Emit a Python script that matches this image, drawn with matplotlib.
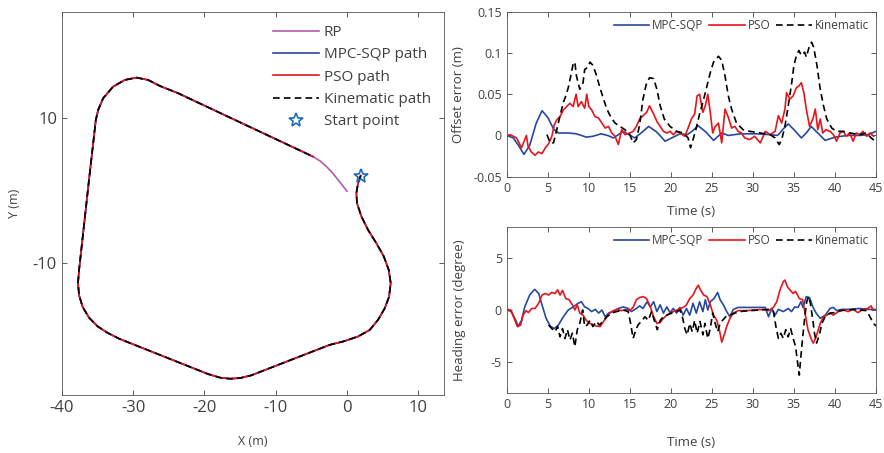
import numpy as np
import matplotlib
matplotlib.use("Agg")
import matplotlib.pyplot as plt

plt.rcParams['font.family'] = ['Open Sans', 'DejaVu Sans']
plt.rcParams['axes.linewidth'] = 0.6
plt.rcParams['axes.unicode_minus'] = False

# ---- trajectory (m) ----
path_x = [1.92, 1.55, 1.31, 1.40, 2.02, 2.95, 4.12, 5.15, 5.85, 6.13, 5.90, 5.29, 4.35, 3.18,
          1.55, -0.56, -2.43, -13.5, -15.0, -16.4, -17.8, -19.5, -32.0, -33.6, -35.0, -36.2,
          -37.1, -37.6, -37.75, -37.6, -36.18, -35.62, -35.25, -34.92, -34.22, -32.82, -31.18,
          -29.54, -27.91, -26.27, -23.70, -4.77]
path_y = [2.06, 1.0, -0.37, -1.76, -3.6, -5.45, -7.3, -9.1, -10.98, -12.8, -14.7, -16.3, -17.9,
          -19.3, -20.2, -20.9, -21.36, -25.6, -25.95, -26.05, -25.9, -25.4, -20.5, -19.7, -18.8,
          -17.6, -16.1, -14.5, -12.8, -11.0, 1.70, 6.54, 9.76, 11.15, 12.77, 14.37, 15.30,
          15.62, 15.30, 14.47, 13.46, 4.69]

rp_x = path_x[4:] + [-3.8, -2.89, -2.0, -1.26, -0.6, 0.0]
rp_y = path_y[4:] + [4.1, 3.31, 2.4, 1.47, 0.65, -0.1]

start_x, start_y = 1.92, 2.06

# ---- offset error (m) ----
off_mpc_t = [0, 0.8, 1.5, 2.1, 2.8, 3.6, 4.3, 5.0, 5.7, 6.3, 7.5, 8.5, 9.7, 10.5, 11.5, 12.3,
             13.0, 14.2, 15.6, 16.5, 17.3, 18.3, 19.3, 20.3, 21.1, 22.0, 22.7, 23.3, 24.3, 25.2,
             26.2, 27.0, 28.5, 30.5, 32.0, 33.0, 33.7, 34.3, 35.1, 35.9, 36.5, 37.1, 38.0, 38.8,
             40.0, 41.5, 43.0, 44.0, 45.0]
off_mpc = [0, -0.003, -0.013, -0.023, -0.012, 0.015, 0.030, 0.022, 0.008, 0.003, 0.003, 0.002,
           -0.002, -0.001, 0.002, 0.0, -0.003, 0.005, -0.003, 0.004, 0.011, 0.004, -0.007,
           -0.002, 0.002, 0.001, 0.006, 0.012, 0.004, -0.006, 0.003, 0.0, 0.002, 0.002, 0.001,
           0.0, 0.008, 0.014, 0.006, -0.003, 0.003, 0.011, 0.002, -0.006, -0.002, 0.0, 0.0,
           0.001, 0.005]

off_pso_t = [0, 0.4, 0.8, 1.2, 1.6, 1.8, 2.2, 2.4, 2.6, 3.0, 3.45, 3.85, 4.3, 4.7, 5.1, 5.5,
             5.8, 6.1, 6.5, 6.9, 7.3, 7.7, 8.1, 8.45, 8.7, 9.1, 9.5, 9.75, 10.0, 10.35, 10.75,
             11.2, 11.6, 12.0, 12.4, 12.8, 13.2, 13.6, 14.0, 14.4, 15.0, 15.4, 15.8, 16.2, 16.6,
             17.05, 17.4, 17.9, 18.3, 18.7, 19.1, 19.5, 19.9, 20.3, 20.7, 21.1, 21.7, 22.1, 22.5,
             22.9, 23.2, 23.5, 23.9, 24.2, 24.5, 24.8, 25.1, 25.4, 25.8, 26.2, 26.6, 27.0, 27.4,
             27.8, 28.2, 28.6, 29.0, 29.6, 30.2, 30.9, 31.5, 32.1, 32.7, 33.1, 33.5, 33.9, 34.1,
             34.5, 34.9, 35.3, 35.6, 35.9, 36.2, 36.5, 36.9, 37.3, 37.6, 37.9, 38.2, 38.5, 38.9,
             39.4, 39.8, 40.2, 40.6, 41.0, 41.4, 41.8, 42.2, 42.6, 43.0, 43.4, 43.85, 44.3, 44.7]
off_pso = [0, 0.001, -0.001, -0.003, -0.011, -0.015, -0.005, 0.0, -0.013, -0.020, -0.024, -0.020,
           -0.022, -0.015, -0.010, -0.001, 0.013, 0.019, 0.023, 0.031, 0.035, 0.039, 0.035, 0.050,
           0.035, 0.041, 0.033, 0.050, 0.035, 0.031, 0.023, 0.021, 0.015, 0.009, 0.011, 0.003,
           -0.001, -0.011, 0.007, 0.001, 0.003, 0.005, 0.011, 0.020, 0.024, 0.028, 0.036, 0.026,
           0.017, 0.011, 0.005, 0.003, 0.005, 0.001, 0.005, 0.003, -0.001, 0.009, 0.020, 0.026,
           0.048, 0.050, 0.028, 0.036, 0.050, 0.028, 0.003, 0.011, 0.015, -0.009, 0.032, 0.022,
           0.009, 0.011, 0.005, 0.003, -0.003, -0.005, -0.001, -0.009, 0.005, 0.001, 0.005, 0.024,
           0.015, 0.032, 0.052, 0.044, 0.048, 0.058, 0.060, 0.064, 0.052, 0.032, 0.011, 0.020,
           0.032, 0.007, 0.020, 0.003, 0.007, 0.005, 0.001, -0.007, 0.003, 0.005, -0.001, 0.003,
           -0.007, 0.003, 0.001, 0.005, -0.001, 0.003, -0.001]

off_kin_t = [4.9, 5.3, 5.7, 6.1, 6.5, 6.9, 7.2, 7.5, 7.8, 8.1, 8.3, 8.5, 8.9, 9.3, 9.5, 9.9, 10.15,
             10.5, 10.9, 11.3, 11.8, 12.2, 12.7, 13.2, 13.8, 14.4, 15.0, 15.4, 15.8, 16.2, 16.6,
             17.0, 17.4, 17.9, 18.3, 18.7, 19.2, 19.9, 20.7, 21.5, 22.1, 22.4, 22.7, 23.1, 23.5,
             24.0, 24.4, 24.8, 25.2, 25.8, 26.2, 26.6, 27.0, 27.4, 28.0, 28.8, 29.6, 30.9, 32.1,
             32.7, 33.2, 33.5, 33.9, 34.3, 34.7, 35.0, 35.3, 35.6, 35.9, 36.3, 36.5, 36.9, 37.15,
             37.4, 37.8, 38.2, 38.6, 39.0, 39.6, 40.2, 41.0, 41.8, 43.0, 43.85, 44.4, 44.8]
off_kin = [0.001, -0.009, -0.009, 0.007, 0.024, 0.040, 0.048, 0.058, 0.072, 0.087, 0.089, 0.072,
           0.056, 0.064, 0.080, 0.083, 0.089, 0.085, 0.074, 0.060, 0.044, 0.032, 0.022, 0.015,
           0.011, 0.007, 0.001, -0.009, -0.005, 0.013, 0.044, 0.062, 0.070, 0.069, 0.056, 0.036,
           0.020, 0.011, 0.005, 0.003, -0.003, -0.015, -0.005, 0.009, 0.026, 0.044, 0.060, 0.076,
           0.089, 0.096, 0.091, 0.072, 0.048, 0.032, 0.015, 0.007, 0.005, 0.003, 0.001, -0.003,
           -0.011, -0.005, 0.011, 0.036, 0.062, 0.085, 0.097, 0.103, 0.097, 0.101, 0.095, 0.109,
           0.113, 0.107, 0.085, 0.056, 0.036, 0.020, 0.009, 0.005, 0.005, 0.003, 0.001, 0.003,
           -0.003, -0.006]

# ---- heading error (degree) ----
head_mpc_t = [0, 0.6, 1.1, 1.4, 1.8, 2.2, 2.8, 3.4, 3.9, 4.3, 4.8, 5.3, 5.8, 6.3, 6.9, 7.5, 8.1,
              8.7, 9.1, 9.5, 9.9, 10.35, 10.8, 11.2, 11.6, 12.0, 12.4, 13.0, 13.6, 14.2, 14.8,
              15.2, 15.8, 16.2, 16.6, 17.1, 17.5, 17.9, 18.3, 18.7, 19.1, 19.5, 19.9, 20.3, 20.7,
              21.1, 21.5, 21.9, 22.3, 22.7, 23.1, 23.5, 23.9, 24.2, 24.5, 24.8, 25.25, 25.7, 26.0,
              26.4, 26.8, 27.2, 27.6, 28.2, 29.2, 30.5, 31.5, 31.9, 32.3, 32.7, 33.1, 33.7, 34.3,
              34.7, 35.1, 35.5, 35.85, 36.1, 36.5, 36.9, 37.3, 37.7, 38.2, 38.8, 39.4, 39.8, 40.2,
              40.8, 41.8, 43.0, 43.85, 44.7, 45.0]
head_mpc = [0.06, -0.2, -1.0, -1.6, -1.0, 0.3, 1.45, 2.0, 1.6, 0.5, -0.8, -1.55, -1.8, -1.45,
            -0.65, 0.0, 0.3, 0.65, 0.8, 0.3, 0.15, -0.15, 0.06, -0.3, 0.0, -0.65, -0.3, -0.15,
            0.15, 0.3, 0.15, -0.15, 0.15, 0.4, 0.15, 0.8, 0.3, 0.8, -0.15, 0.5, -0.3, 0.3, -0.25,
            0.15, -0.3, 0.25, -0.5, 0.15, -0.5, 0.65, -0.3, 0.8, -0.15, 1.0, 0.0, 0.8, 1.1, 1.7,
            1.0, 0.5, -0.15, -0.65, 0.06, 0.25, 0.25, 0.25, 0.25, -0.65, 0.15, -0.5, 0.06, -0.15,
            0.15, -0.15, 0.3, 0.25, 0.8, 0.25, 1.3, 1.2, 0.3, -0.3, -0.8, -0.5, 0.15, 0.25, -0.06,
            0.06, 0.06, 0.15, 0.06, 0.06, 0.06]

head_pso_t = [0, 0.5, 0.9, 1.3, 1.7, 2.0, 2.35, 2.65, 3.05, 3.45, 3.9, 4.3, 4.7, 5.1, 5.5, 5.9,
              6.2, 6.5, 6.8, 7.2, 7.6, 8.0, 8.3, 8.6, 8.9, 9.3, 9.7, 10.15, 10.55, 10.95, 11.4,
              11.8, 12.2, 12.6, 13.0, 13.4, 14.0, 14.6, 15.0, 15.4, 15.8, 16.2, 16.6, 17.05, 17.5,
              17.9, 18.3, 18.7, 19.1, 19.5, 19.9, 20.3, 20.9, 21.5, 21.9, 22.3, 22.7, 23.1, 23.35,
              23.6, 24.0, 24.4, 24.8, 25.2, 25.6, 25.9, 26.2, 26.5, 26.8, 27.2, 27.6, 28.2, 29.2,
              30.25, 31.3, 31.9, 32.5, 32.9, 33.3, 33.7, 33.9, 34.2, 34.5, 34.9, 35.2, 35.65,
              36.05, 36.35, 36.7, 37.15, 37.35, 37.7, 38.2, 38.6, 39.0, 39.4, 39.8, 40.4, 41.0,
              41.6, 42.2, 42.8, 43.4, 44.0, 44.4, 44.6]
head_pso = [0.06, 0.0, -0.8, -1.6, -1.45, -0.5, -0.06, -0.25, 0.15, 0.15, 0.65, 1.45, 1.6, 1.45,
            1.7, 1.6, 1.95, 1.45, 1.9, 1.1, 1.0, 0.5, 0.0, 0.5, -0.3, -0.5, -1.0, -1.3, -1.45,
            -1.55, -1.6, -1.1, -0.65, -0.25, -0.06, 0.06, -0.06, 0.06, -0.06, 0.25, 1.0, 1.2,
            1.3, 1.1, 0.3, -0.65, -1.3, -1.2, -0.8, -0.5, -0.3, -0.15, 0.06, 0.25, 0.5, 1.1, 1.45,
            2.1, 2.4, 1.95, 1.45, 1.3, 0.5, -0.5, -1.0, -1.9, -3.1, -2.4, -1.6, -0.8, -0.3, -0.06,
            -0.06, 0.0, 0.06, -0.06, 0.25, 0.8, 1.95, 2.75, 2.9, 2.25, 1.95, 1.6, 1.8, 1.1, 1.0,
            -0.3, -1.9, -2.9, -3.2, -2.6, -1.3, -0.65, -0.5, -0.3, -0.5, -0.15, 0.0, -0.15, 0.06,
            -0.25, 0.06, 0.15, 0.4, 0.06]

head_kin_t = [5.1, 5.5, 5.9, 6.2, 6.5, 6.8, 7.1, 7.4, 7.7, 8.0, 8.3, 8.6, 8.9, 9.25, 9.5, 9.8,
              10.15, 10.5, 10.9, 11.3, 11.8, 12.2, 12.8, 13.4, 14.2, 14.8, 15.1, 15.4, 15.75,
              16.0, 16.4, 16.85, 17.25, 17.65, 18.1, 18.35, 18.7, 19.1, 19.5, 20.1, 20.7, 21.1,
              21.45, 21.7, 22.0, 22.3, 22.6, 22.9, 23.2, 23.55, 23.9, 24.15, 24.5, 24.8, 25.1,
              25.4, 25.7, 26.0, 26.3, 26.7, 27.2, 27.8, 28.4, 29.6, 30.9, 31.9, 32.5, 32.8, 33.1,
              33.4, 33.7, 34.0, 34.3, 34.6, 34.9, 35.2, 35.4, 35.65, 35.8, 36.05, 36.3, 36.55,
              36.8, 37.0, 37.3, 37.5, 37.75, 38.1, 38.4, 38.8, 39.4, 40.0, 40.6, 41.4, 42.2, 43.0,
              43.85, 44.25, 44.7, 45.0]
head_kin = [-1.45, -1.8, -2.1, -1.6, -2.6, -1.8, -2.75, -1.9, -2.9, -2.25, -3.55, -1.9, -1.3, 0.0,
            -1.6, -1.45, -1.0, -1.6, -1.1, -1.45, -1.0, -0.65, -0.3, -0.15, 0.0, -0.15, -1.3,
            -2.75, -1.9, -1.45, -1.1, -0.65, -1.0, -0.15, -1.3, -1.9, -1.0, -0.65, -0.5, -0.3,
            -0.15, 0.0, -0.8, -1.8, -2.4, -1.3, -2.1, -1.0, -2.25, -1.1, -2.4, -1.3, -2.75, -1.8,
            -0.3, -1.3, -2.1, -1.3, -1.0, -0.65, -0.5, -0.3, -0.15, -0.06, 0.0, 0.06, -0.15, -1.6,
            -2.75, -2.25, -2.75, -1.9, -2.6, -1.8, -2.75, -3.55, -4.85, -6.3, -4.85, -2.75, -0.8,
            0.8, 1.3, 0.65, -1.0, -2.25, -3.2, -2.4, -1.3, -0.65, -0.3, -0.25, -0.06, 0.0, 0.06,
            0.0, -0.06, -0.65, -1.3, -1.55]

c_mpc = '#2548a0'
c_pso = '#e8141c'
c_rp = '#b45ab4'
c_star = '#1f6cb4'
c_text = '#404040'
lw = 1.2
dash = (4, 2.5)


def style_axes(ax, fs):
    ax.tick_params(direction='in', top=True, right=True, length=3.5, width=0.6,
                   labelsize=fs, colors=c_text)
    for s in ax.spines.values():
        s.set_color('#555555')


fig = plt.figure(figsize=(8.84, 4.53), dpi=100)

# trajectory panel
ax0 = fig.add_axes([0.0701, 0.128, 0.4321, 0.8455])
ax0.plot(rp_x, rp_y, color=c_rp, lw=lw, label='RP')
ax0.plot(path_x, path_y, color=c_mpc, lw=lw, label='MPC-SQP path')
ax0.plot(path_x, path_y, color=c_pso, lw=lw, label='PSO path')
ax0.plot(path_x, path_y, color='black', lw=lw, dashes=dash, label='Kinematic path')
ax0.plot([start_x], [start_y], ls='none', marker='*', ms=10, mfc='none', mec=c_star,
         mew=1.2, label='Start point')
ax0.set_xlim(-40, 13.6)
ax0.set_ylim(-28.3, 24.7)
ax0.set_xticks([-40, -30, -20, -10, 0, 10])
ax0.set_yticks([-10, 10])
style_axes(ax0, 12)
ax0.set_xlabel('X (m)', fontsize=9, color=c_text)
ax0.set_ylabel('Y (m)', fontsize=9, color=c_text)
ax0.xaxis.set_label_coords(0.5, -0.105)
ax0.yaxis.set_label_coords(-0.108, 0.5)
ax0.legend(loc='upper right', frameon=False, fontsize=11, handlelength=3.0,
           handletextpad=0.3, labelspacing=0.48, borderaxespad=0.45, labelcolor=c_text)

# offset error panel
ax1 = fig.add_axes([0.5732, 0.6099, 0.4178, 0.3642])
ax1.plot(off_mpc_t, off_mpc, color=c_mpc, lw=lw, label='MPC-SQP')
ax1.plot(off_pso_t, off_pso, color=c_pso, lw=lw, label='PSO')
ax1.plot(off_kin_t, off_kin, color='black', lw=lw, dashes=dash, label='Kinematic')
ax1.set_xlim(0, 45)
ax1.set_ylim(-0.05, 0.15)
ax1.set_xticks(np.arange(0, 46, 5))
ax1.set_yticks([-0.05, 0, 0.05, 0.1, 0.15])
ax1.set_yticklabels(['-0.05', '0', '0.05', '0.1', '0.15'])
style_axes(ax1, 9)
ax1.set_xlabel('Time (s)', fontsize=9.5, color=c_text)
ax1.set_ylabel('Offset error (m)', fontsize=9.5, color=c_text)
ax1.xaxis.set_label_coords(0.5, -0.17)
ax1.yaxis.set_label_coords(-0.113, 0.5)
ax1.legend(loc='upper right', ncol=3, frameon=False, fontsize=8.5, handlelength=3.0,
           handletextpad=0.25, columnspacing=0.5, borderaxespad=0.2, labelcolor=c_text)

# heading error panel
ax2 = fig.add_axes([0.5732, 0.1331, 0.4178, 0.3651])
ax2.plot(head_mpc_t, head_mpc, color=c_mpc, lw=lw, label='MPC-SQP')
ax2.plot(head_pso_t, head_pso, color=c_pso, lw=lw, label='PSO')
ax2.plot(head_kin_t, head_kin, color='black', lw=lw, dashes=dash, label='Kinematic')
ax2.set_xlim(0, 45)
ax2.set_ylim(-8, 8)
ax2.set_xticks(np.arange(0, 46, 5))
ax2.set_yticks([-5, 0, 5])
style_axes(ax2, 9)
ax2.set_xlabel('Time (s)', fontsize=9.5, color=c_text)
ax2.set_ylabel('Heading error (degree)', fontsize=9.5, color=c_text)
ax2.xaxis.set_label_coords(0.5, -0.26)
ax2.yaxis.set_label_coords(-0.11, 0.5)
ax2.legend(loc='upper right', ncol=3, frameon=False, fontsize=8.5, handlelength=3.0,
           handletextpad=0.25, columnspacing=0.5, borderaxespad=0.2, labelcolor=c_text)

fig.savefig('out.png', dpi=100)
